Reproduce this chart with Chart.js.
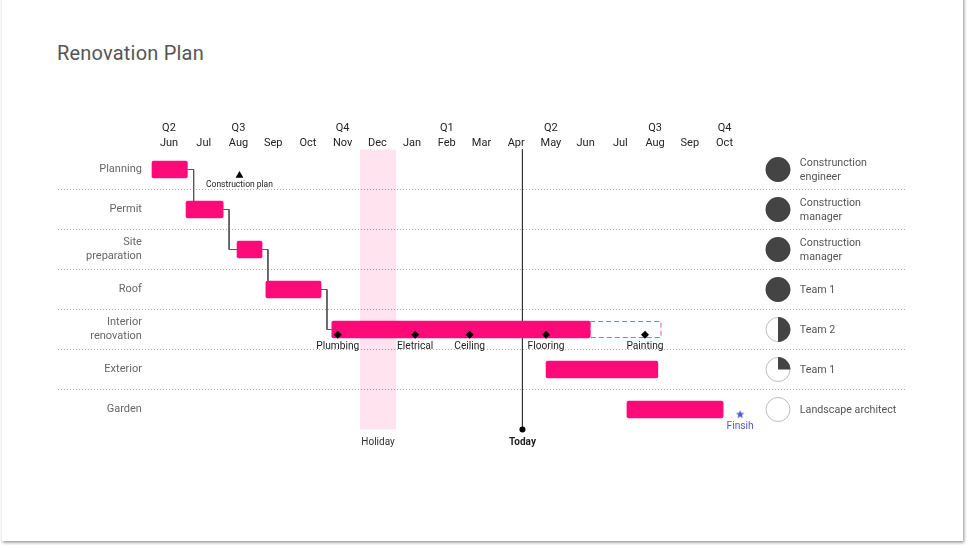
<!DOCTYPE html>
<html>
<head>
<meta charset="utf-8">
<title>Renovation Plan</title>
<script src="https://cdn.jsdelivr.net/npm/chart.js@4"></script>
<style>
  html, body { margin: 0; padding: 0; background: #fff; overflow: hidden; }
  #card { position: absolute; left: 2px; top: -4px; width: 961px; height: 544.5px; background: #fff; box-shadow: 1px 1.5px 3px rgba(0,0,0,.45); }
  h1 { position: absolute; left: 57px; top: 41px; margin: 0; font: 400 20px/24px Roboto, sans-serif; color: #555; letter-spacing: .2px; }
  canvas { position: absolute; left: 0; top: 0; }
</style>
</head>
<body>
<div id="card"></div>
<h1>Renovation Plan</h1>
<canvas id="plan" width="968" height="548"></canvas>
<script>
// month axis: 0 = Jun, every unit is one month
const months = ["Jun", "Jul", "Aug", "Sep", "Oct", "Nov", "Dec", "Jan", "Feb", "Mar", "Apr", "May", "Jun", "Jul", "Aug", "Sep", "Oct"];
const quarters = ["Q2", "", "Q3", "", "", "Q4", "", "", "Q1", "", "", "Q2", "", "", "Q3", "", "Q4"];
const tasks = ["Planning", "Permit", ["Site", "preparation"], "Roof", ["Interior", "renovation"], "Exterior", "Garden"];

const taskSpans = [[-0.49, 0.53], [0.49, 1.56], [1.96, 2.68], [2.79, 4.38], [4.69, 12.13], [10.86, 14.08], [13.19, 15.96]];
const remainingSpans = [null, null, null, null, [12.13, 14.17], null, null];
const holidaySpan = [5.51, 6.53];
const todayAt = 10.18;

const links = [
  [{ x: 0.53, y: 0 }, { x: 0.71, y: 0 }, { x: 0.71, y: 0.8 }],
  [{ x: 1.56, y: 1 }, { x: 1.73, y: 1 }, { x: 1.73, y: 2 }, { x: 1.96, y: 2 }],
  [{ x: 2.68, y: 2 }, { x: 2.85, y: 2 }, { x: 2.85, y: 2.8 }],
  [{ x: 4.38, y: 3 }, { x: 4.55, y: 3 }, { x: 4.55, y: 4 }, { x: 4.69, y: 4 }]
];

const milestoneNames = ["Plumbing", "Eletrical", "Ceiling", "Flooring", "Painting"];
const milestoneAt = [4.86, 7.09, 8.66, 10.86, 13.71];

const owners = [["Construnction", "engineer"], ["Construction", "manager"], ["Construction", "manager"], ["Team 1"], ["Team 2"], ["Team 1"], ["Landscape architect"]];
const progress = [1, 1, 1, 1, 0.5, 0.25, 0];

const PINK = "#ff0a78";
const DARK = "#444";

// odd height so the image lands on whole pixels, rows sit on a half pixel
function ballImage(done) {
  const c = document.createElement("canvas");
  c.width = 26;
  c.height = 25;
  const g = c.getContext("2d");
  g.beginPath();
  g.arc(13, 12.5, 12, 0, Math.PI * 2);
  g.fillStyle = "#fff";
  g.fill();
  g.strokeStyle = "#bbb";
  g.stroke();
  if (done > 0) {
    const start = -Math.PI / 2;
    g.beginPath();
    g.moveTo(13, 12.5);
    g.arc(13, 12.5, 12.4, start, start + done * Math.PI * 2);
    g.closePath();
    g.fillStyle = DARK;
    g.fill();
  }
  return c;
}

function starImage() {
  const c = document.createElement("canvas");
  c.width = c.height = 10;
  const g = c.getContext("2d");
  g.beginPath();
  for (let i = 0; i < 10; i++) {
    const r = i % 2 ? 1.9 : 4.6;
    const a = -Math.PI / 2 + i * Math.PI / 5;
    g.lineTo(5 + r * Math.cos(a), 5 + r * Math.sin(a));
  }
  g.closePath();
  g.fillStyle = "#5558cc";
  g.fill();
  return c;
}

// dashed outline for what is left of a task, bars have no borderDash
const dashedBar = {
  id: "dashedBar",
  beforeDatasetsDraw(chart) {
    const index = chart.data.datasets.findIndex(d => d.label === "Remaining");
    const ctx = chart.ctx;
    chart.getDatasetMeta(index).data.forEach((bar, i) => {
      if (!remainingSpans[i]) return;
      const { x, y, base, height } = bar.getProps(["x", "y", "base", "height"], true);
      ctx.save();
      ctx.strokeStyle = "#f0559a";
      ctx.lineWidth = 1;
      ctx.setLineDash([5, 3]);
      ctx.strokeRect(base, Math.round(y - height / 2) + 0.5, x - base, height - 1);
      ctx.restore();
    });
  }
};

const textLabels = {
  id: "textLabels",
  afterDraw(chart) {
    const ctx = chart.ctx;
    const sx = chart.scales.x;
    const sy = chart.scales.yv;
    const put = (text, x, y, font, color, align) => {
      ctx.font = font;
      ctx.fillStyle = color;
      ctx.textAlign = align || "center";
      ctx.textBaseline = "middle";
      ctx.fillText(text, sx.getPixelForValue(x), sy.getPixelForValue(y));
    };
    ctx.save();
    milestoneNames.forEach((name, i) => put(name, milestoneAt[i], 4.425, "10.2px Roboto", "#222"));
    put("Construction plan", 2.03, 0.375, "8.5px Roboto", "#222");
    put("Holiday", (holidaySpan[0] + holidaySpan[1]) / 2, 6.82, "10px Roboto", "#333");
    put("Today", todayAt, 6.82, "bold 10px Roboto", "#222");
    put("Finsih", 16.45, 6.425, "10.2px Roboto", "#5558cc");
    owners.forEach((lines, row) => {
      lines.forEach((line, i) => {
        put(line, 18.17, row + 0.025 + (i - (lines.length - 1) / 2) * 0.35, "10.7px Roboto", "#555", "left");
      });
    });
    ctx.restore();
  }
};

new Chart(document.getElementById("plan"), {
  type: "bar",
  plugins: [dashedBar, textLabels],
  data: {
    labels: tasks,
    datasets: [
      {
        label: "Holiday",
        indexAxis: "y",
        data: tasks.map(() => holidaySpan),
        backgroundColor: "rgba(255,10,120,0.11)",
        barPercentage: 1,
        categoryPercentage: 1,
        grouped: false,
        order: 6
      },
      ...links.map(points => ({
        type: "scatter",
        showLine: true,
        data: points,
        yAxisID: "yv",
        borderColor: "#555",
        borderWidth: 1,
        pointRadius: 0,
        order: 5
      })),
      {
        type: "scatter",
        label: "Today",
        showLine: true,
        data: [{ x: todayAt, y: -0.5 }, { x: todayAt, y: 6.5 }],
        yAxisID: "yv",
        borderColor: "#333",
        borderWidth: 1,
        pointRadius: [0, 3],
        pointBackgroundColor: "#000",
        pointBorderWidth: 0,
        clip: false,
        order: 4
      },
      {
        label: "Tasks",
        indexAxis: "y",
        data: taskSpans,
        backgroundColor: PINK,
        barThickness: 17,
        borderRadius: 2,
        borderSkipped: false,
        grouped: false,
        order: 3
      },
      {
        label: "Remaining",
        indexAxis: "y",
        data: remainingSpans,
        backgroundColor: "rgba(0,0,0,0)",
        barThickness: 17,
        grouped: false,
        order: 3
      },
      {
        type: "scatter",
        label: "Milestones",
        data: milestoneAt.map(x => ({ x, y: 4.13 })),
        yAxisID: "yv",
        pointStyle: "rectRot",
        pointRadius: 4,
        backgroundColor: "#000",
        borderWidth: 0,
        clip: false,
        order: 1
      },
      {
        type: "scatter",
        label: "Construction plan",
        data: [{ x: 2.03, y: 0.15 }],
        yAxisID: "yv",
        pointStyle: "triangle",
        pointRadius: 4.5,
        backgroundColor: "#000",
        borderWidth: 0,
        order: 1
      },
      {
        type: "scatter",
        label: "Finish",
        data: [{ x: 16.45, y: 6.125 }],
        yAxisID: "yv",
        pointStyle: starImage(),
        order: 1
      },
      {
        type: "scatter",
        label: "Progress",
        data: progress.map((_, row) => ({ x: 17.54, y: row })),
        yAxisID: "yv",
        pointStyle: progress.map(ballImage),
        order: 1
      }
    ]
  },
  options: {
    responsive: false,
    animation: false,
    font: { family: "Roboto" },
    layout: { padding: { left: 58, right: 61, top: 109.5, bottom: 118.5 } },
    plugins: { legend: { display: false }, tooltip: { enabled: false } },
    scales: {
      x: {
        type: "linear",
        position: "top",
        offset: false,
        min: -3.197,
        max: 21.256,
        grid: { display: false, drawTicks: false, offset: false },
        border: { display: false },
        afterBuildTicks(scale) {
          scale.ticks = months.map((_, i) => ({ value: i }));
        },
        afterFit(scale) {
          scale.height = 40;
        },
        ticks: {
          autoSkip: false,
          maxRotation: 0,
          minRotation: 0,
          padding: -2,
          color: "#222",
          font: { family: "Roboto", size: 11, lineHeight: 1.42 },
          callback: value => [quarters[value], months[value]]
        }
      },
      y: {
        type: "category",
        labels: tasks,
        offset: true,
        grid: {
          offset: true,
          drawTicks: false,
          color: ctx => (ctx.index === undefined || ctx.index === 0 ? "rgba(0,0,0,0)" : "#aaa")
        },
        border: { display: false, dash: [1, 2] },
        afterFit(scale) {
          scale.width = 0;
        },
        ticks: {
          mirror: true,
          crossAlign: "far",
          padding: 28,
          color: "#666",
          font: { family: "Roboto", size: 11, lineHeight: 1.27 }
        }
      },
      yv: {
        type: "linear",
        axis: "y",
        display: false,
        reverse: true,
        min: -0.5,
        max: 6.5
      }
    }
  }
});
</script>
</body>
</html>
